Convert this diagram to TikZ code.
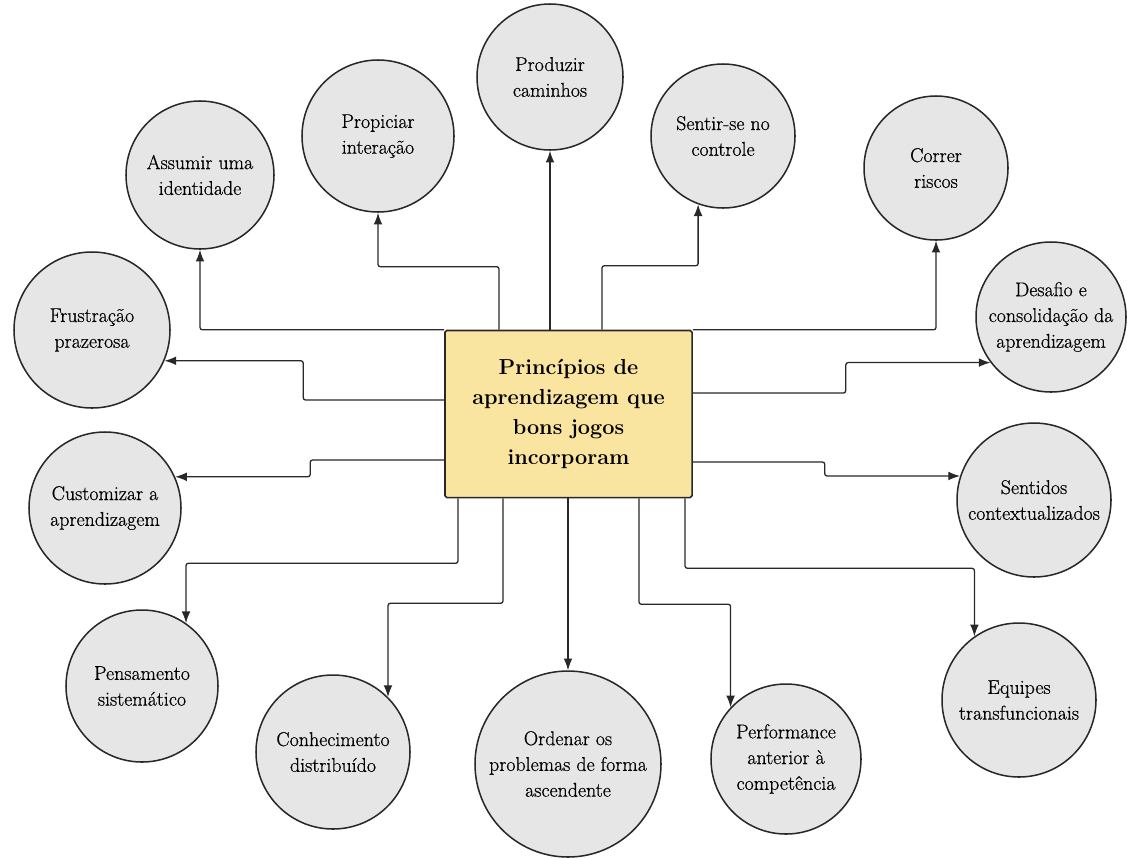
\documentclass[tikz,border=0pt]{standalone}
\usepackage{fontspec}
\setmainfont{Latin Modern Roman}[UprightFeatures={FakeBold=0.6}]
\usepackage{tikz}
\usetikzlibrary{arrows.meta, calc}

\definecolor{boxyellow}{RGB}{250,229,160}
\definecolor{bubblegray}{RGB}{230,230,230}
\definecolor{inkgray}{RGB}{40,40,40}

\begin{document}
\begin{tikzpicture}[x=0.03cm, y=-0.03cm,
	bubble/.style={circle, draw=inkgray, line width=1.3pt, fill=bubblegray, inner sep=-14pt, align=center, minimum size=2*#1*0.03cm, font=\fontsize{17}{22}\selectfont},
	link/.style={draw=inkgray, line width=1.1pt, rounded corners=2pt, -{Latex[length=10pt,width=7.5pt]}}]
	\useasboundingbox (0,0) rectangle (1127,858);
	% centre
	\node[draw=inkgray, line width=1.3pt, fill=boxyellow, rounded corners=1.5pt, minimum width=7.41cm, minimum height=5.01cm, align=center, font=\fontsize{18.5}{25.5}\selectfont\bfseries] (box) at (568.5,414) {Princípios de\\aprendizagem que\\bons jogos\\incorporam};
	% around it
	\node[bubble=78] (frustracao) at (92,330) {Frustração\\prazerosa};
	\node[bubble=74] (assumir) at (200,175) {Assumir uma\\identidade};
	\node[bubble=76] (propiciar) at (378,136) {Propiciar\\interação};
	\node[bubble=73] (produzir) at (550,77) {Produzir\\caminhos};
	\node[bubble=72] (sentir) at (723,136) {Sentir-se no\\controle};
	\node[bubble=72] (correr) at (936,168) {Correr\\riscos};
	\node[bubble=75] (desafio) at (1051,317) {Desafio e\\consolidação da\\aprendizagem};
	\node[bubble=77] (sentidos) at (1034,500) {Sentidos\\contextualizados};
	\node[bubble=77] (equipes) at (1019,700) {Equipes\\transfuncionais};
	\node[bubble=75] (performance) at (786,759) {Performance\\anterior à\\competência};
	\node[bubble=93] (ordenar) at (568,764) {Ordenar os\\problemas de forma\\ascendente};
	\node[bubble=77] (conhecimento) at (333,752) {Conhecimento\\distribuído};
	\node[bubble=76] (pensamento) at (142,686) {Pensamento\\sistemático};
	\node[bubble=76] (customizar) at (105,508) {Customizar a\\aprendizagem};
	% arrows
	\draw[link] (box.north west) -| (assumir);
	\draw[link] ($(box.north)+(-69.5,0)$) -- ++(0,-63) -| (propiciar);
	\draw[link] (produzir |- box.north) -- (produzir);
	\draw[link] ($(box.north)+(33.5,0)$) -- ++(0,-64) -| (sentir.250);
	\draw[link] (box.north east) -| (correr);
	\draw[link] ($(box.west)+(0,-14)$) -- ++(-141,0) |- (frustracao.-23);
	\draw[link] ($(box.west)+(0,46)$) -- ++(-134,0) |- (customizar.24);
	\draw[link] ($(box.east)+(0,-21)$) -- ++(153,0) |- (desafio.217);
	\draw[link] ($(box.east)+(0,48)$) -- ++(132,0) |- (sentidos.162);
	\draw[link] ($(box.south)+(-110.5,0)$) -- ++(0,65) -| (pensamento.55);
	\draw[link] ($(box.south)+(-65.5,0)$) -- ++(0,105) -| (conhecimento.45);
	\draw[link] (ordenar |- box.south) -- (ordenar);
	\draw[link] ($(box.south)+(70.5,0)$) -- ++(0,106) -| (performance.137);
	\draw[link] ($(box.south)+(116.5,0)$) -- ++(0,70) -| (equipes.125);
\end{tikzpicture}
\end{document}
